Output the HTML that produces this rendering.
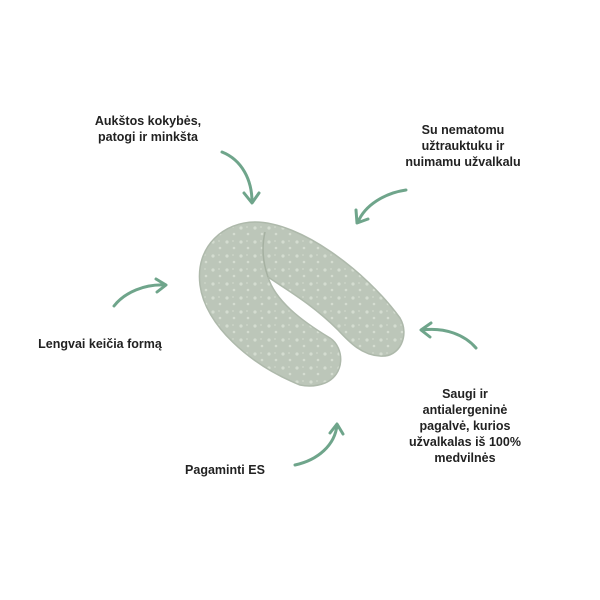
<!DOCTYPE html>
<html><head><meta charset="utf-8"><style>
html,body{margin:0;padding:0;background:#fff;}
.c{position:relative;width:600px;height:600px;overflow:hidden;font-family:"Liberation Sans",sans-serif;font-weight:bold;font-size:12.5px;color:#222;line-height:16px;}
.t{position:absolute;text-align:center;white-space:nowrap;}
svg{position:absolute;left:0;top:0;}
</style></head><body><div class="c">
<svg width="600" height="600" viewBox="0 0 600 600">
<defs><pattern id="p" width="14" height="14" patternUnits="userSpaceOnUse"><rect width="14" height="14" fill="#bcc6b9"/><circle cx="3" cy="4" r="1.6" fill="#d4dcd0"/><circle cx="10" cy="10" r="1.3" fill="#d4dcd0"/><circle cx="9" cy="3" r="0.9" fill="#cfd7cb"/></pattern></defs>
<path d="M 300 385 C 250 365, 205 325, 200 285 C 195 245, 225 222, 255 222 C 300 222, 365 270, 400 318 C 410 335, 400 358, 380 356 C 362 355, 350 343, 338 330 C 312 304, 287 290, 268 277 C 275 300, 300 320, 330 338 C 345 348, 345 375, 325 383 C 315 387, 305 386, 300 385 Z" fill="url(#p)" stroke="#aeb9ab" stroke-width="1.5"/>
<path d="M268 277 C 262 260, 262 245, 265 232" fill="none" stroke="#a6b1a2" stroke-width="1.5"/>
<g fill="none" stroke="#6fa58b" stroke-width="3" stroke-linecap="round" stroke-linejoin="round">
<path d="M222 152 C 242 160, 252 180, 252 202"/><path d="M244 193 L252 203 L259 193"/>
<path d="M406 190 C 385 193, 365 205, 358 222"/><path d="M356 210 L357 223 L368 219"/>
<path d="M114 306 C 125 292, 145 284, 165 285"/><path d="M156 279 L166 285 L157 292"/>
<path d="M476 348 C 465 335, 445 327, 422 330"/><path d="M431 323 L421 330 L430 337"/>
<path d="M295 465 C 318 460, 335 445, 337 425"/><path d="M330 433 L337 424 L343 434"/>
</g>
</svg>
<div class="t" style="left:78px;top:113px;width:140px;">Aukštos kokybės,<br>patogi ir minkšta</div>
<div class="t" style="left:398px;top:122px;width:130px;">Su nematomu<br>užtrauktuku ir<br>nuimamu užvalkalu</div>
<div class="t" style="left:20px;top:336px;width:160px;">Lengvai keičia formą</div>
<div class="t" style="left:400px;top:386px;width:130px;">Saugi ir<br>antialergeninė<br>pagalvė, kurios<br>užvalkalas iš 100%<br>medvilnės</div>
<div class="t" style="left:170px;top:462px;width:110px;">Pagaminti ES</div>
</div></body></html>
